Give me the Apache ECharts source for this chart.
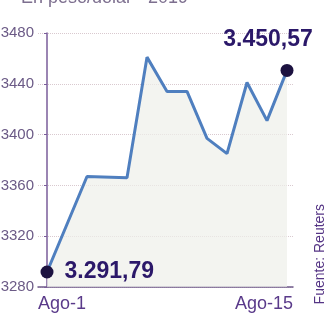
<!DOCTYPE html>
<html>
<head>
<meta charset="utf-8">
<script src="https://cdn.jsdelivr.net/npm/echarts@6/dist/echarts.min.js"></script>
<style>html,body{margin:0;padding:0;background:#fff}#c{width:328px;height:319px}</style>
</head>
<body>
<div id="c"></div>
<script>
// Data (trading-day positions along the axis, 0 = Ago-1, 12 = Ago-15)
var positions = [0, 2, 4, 5, 6, 7, 8, 9, 10, 11, 12];
var values = [3291.79, 3367, 3366, 3461, 3434, 3434, 3397, 3385, 3441, 3411, 3450.57];
var xLabels = ['Ago-1', 'Ago-15'];
var yTicks = [3280, 3320, 3360, 3400, 3440, 3480];
var titleText = 'En peso/dólar - 2019';
var sourceText = 'Fuente: Reuters';

function fmt(v) {
  var s = v.toFixed(2).split('.');
  return s[0].replace(/\B(?=(\d{3})+(?!\d))/g, '.') + ',' + s[1];
}

var X_MIN = -0.45, X_MAX = 12.3;
var last = values.length - 1;
var data = positions.map(function (p, i) {
  var item = { value: [p, values[i]] };
  if (i === 0 || i === last) {
    item.symbolSize = 13;
    item.itemStyle = { color: '#1c1240' };
    item.label = {
      show: true,
      formatter: fmt(values[i]),
      color: '#2b1869',
      fontSize: 23,
      fontWeight: 'bold',
      fontFamily: 'Liberation Sans, Arial, sans-serif',
      position: i === 0 ? 'right' : 'top',
      distance: i === 0 ? 11 : 5,
      offset: i === 0 ? [0, 0] : [-19, -8]
    };
  } else {
    item.symbolSize = 0;
  }
  return item;
});

var chart = echarts.init(document.getElementById('c'), null, { renderer: 'canvas' });
chart.setOption({
  animation: false,
  backgroundColor: '#ffffff',
  title: {
    text: titleText,
    left: 16,
    top: -16,
    textStyle: { color: '#7d6f8f', fontSize: 18, fontWeight: 'normal', fontFamily: 'Liberation Sans, Arial, sans-serif' }
  },
  graphic: [{
    type: 'text',
    right: 1,
    top: 204,
    rotation: Math.PI / 2,
    style: {
      text: sourceText,
      fill: '#553585',
      font: '500 14px "Liberation Sans Narrow", "Liberation Sans", Arial, sans-serif'
    }
  }],
  grid: { left: 38, right: 35, top: 33, bottom: 32, containLabel: false, outerBoundsMode: 'none' },
  xAxis: {
    type: 'value',
    min: X_MIN,
    max: X_MAX,
    interval: 0.05,
    axisLine: { show: true, onZero: false, lineStyle: { color: '#6f5a8a', width: 1.5 } },
    axisTick: { show: false },
    splitLine: { show: false },
    axisLabel: {
      interval: 0,
      hideOverlap: false,
      showMinLabel: true,
      showMaxLabel: true,
      alignMinLabel: 'left',
      alignMaxLabel: 'right',
      margin: 8,
      color: '#5a3a8a',
      fontSize: 18,
      fontFamily: '"Liberation Sans Narrow", "Liberation Sans", Arial, sans-serif',
      formatter: function (v) {
        if (Math.abs(v - X_MIN) < 1e-6) return xLabels[0];
        if (Math.abs(v - X_MAX) < 1e-6) return xLabels[1];
        return '';
      }
    }
  },
  yAxis: {
    type: 'value',
    min: yTicks[0],
    max: yTicks[yTicks.length - 1],
    interval: yTicks[1] - yTicks[0],
    axisLine: { show: true, lineStyle: { color: '#7a5d9a', width: 1.5 } },
    axisTick: { show: true, length: 3, lineStyle: { color: '#7a5d9a' } },
    splitLine: { show: true, lineStyle: { color: '#d9c9cf', type: 'dotted', width: 1 } },
    axisLabel: {
      margin: 4,
      color: '#6b5a86',
      fontSize: 15,
      fontFamily: '"Liberation Sans Narrow", "Liberation Sans", Arial, sans-serif',
      formatter: function (v) { return String(v); }
    }
  },
  series: [{
    type: 'line',
    data: data,
    showSymbol: true,
    symbol: 'circle',
    z: 3,
    lineStyle: { color: '#4f7fbf', width: 3 },
    itemStyle: { color: '#1c1240' },
    areaStyle: { color: '#eef0ea', origin: 'start' }
  }]
});
</script>
</body>
</html>
